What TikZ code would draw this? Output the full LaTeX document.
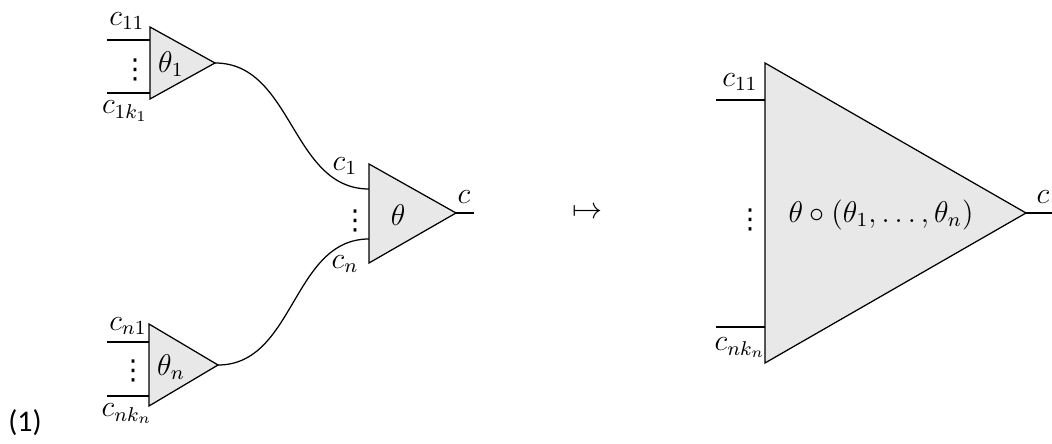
\documentclass[tikz,border=0pt]{standalone}
\usepackage{fontspec}
\newfontfamily\numfont{Carlito}
\newfontfamily\dotfont{DejaVu Sans}
\begin{document}
\begin{tikzpicture}[x=0.4pt,y=-0.4pt,
  wire/.style={line width=0.5pt},
  tri/.style={draw,line width=0.5pt,fill=gray!18,line join=miter},
  lbl/.style={inner sep=0pt,font=\fontsize{12}{14}\selectfont},
  vd/.style={inner sep=0pt,font=\dotfont\fontsize{11}{13}\selectfont}]
\useasboundingbox (0,0) rectangle (1052,444);
% top small triangle
\coordinate (t1a) at (150,27); \coordinate (t1b) at (150,99); \coordinate (t1o) at (215,63);
\filldraw[tri] (t1a) -- (t1o) -- (t1b) -- cycle;
\coordinate (t1i1s) at (107,40); \coordinate (t1i1) at (150,40);
\coordinate (t1i2s) at (107,93); \coordinate (t1i2) at (150,93);
\draw[wire] (t1i1s) -- (t1i1);
\draw[wire] (t1i2s) -- (t1i2);
\node[lbl] (l11) at (127,21) {$c_{11}$};
\node[lbl] (l1k) at (125,111) {$c_{1k_1}$};
\node[lbl] (th1) at (171,64) {$\theta_1$};
\node[vd] (d1) at (135,70) {⋮};
% bottom small triangle
\coordinate (tna) at (149,324); \coordinate (tnb) at (149,406); \coordinate (tno) at (218,365);
\filldraw[tri] (tna) -- (tno) -- (tnb) -- cycle;
\coordinate (tni1s) at (107,342); \coordinate (tni1) at (149,342);
\coordinate (tni2s) at (107,396); \coordinate (tni2) at (149,396);
\draw[wire] (tni1s) -- (tni1);
\draw[wire] (tni2s) -- (tni2);
\node[lbl] (ln1) at (128,326) {$c_{n1}$};
\node[lbl] (lnk) at (127,414) {$c_{nk_n}$};
\node[lbl] (thn) at (171,367) {$\theta_n$};
\node[vd] (dn) at (133,371) {⋮};
% middle triangle
\coordinate (ma) at (369,164); \coordinate (mb) at (369,263); \coordinate (mo) at (456,213);
\filldraw[tri] (ma) -- (mo) -- (mb) -- cycle;
\coordinate (m1) at (369,189); \coordinate (mn) at (369,239);
\coordinate (mout) at (474,213);
\draw[wire] (mo) -- (mout);
\draw[wire] (t1o) to[out=0,in=180] (m1);
\draw[wire] (tno) to[out=0,in=180] (mn);
\node[lbl] (lc1) at (345,166) {$c_1$};
\node[lbl] (lcn) at (345,264) {$c_n$};
\node[lbl] (th) at (398,215) {$\theta$};
\node[lbl] (lc) at (464,197) {$c$};
\node[vd] (dm) at (355,221) {⋮};
% mapsto
\node[lbl] (map) at (587,213) {$\mapsto$};
% big triangle
\coordinate (ba) at (765,63); \coordinate (bb) at (765,363); \coordinate (bo) at (1026,213);
\filldraw[tri] (ba) -- (bo) -- (bb) -- cycle;
\coordinate (bi1s) at (716,100); \coordinate (bi1) at (765,100);
\coordinate (bi2s) at (716,327); \coordinate (bi2) at (765,327);
\coordinate (bout) at (1052,213);
\draw[wire] (bi1s) -- (bi1);
\draw[wire] (bi2s) -- (bi2);
\draw[wire] (bo) -- (bout);
\node[lbl] (bl11) at (740,82) {$c_{11}$};
\node[lbl] (blnk) at (740,348) {$c_{nk_n}$};
\node[lbl] (bth) at (881,215) {$\theta\circ(\theta_1,\ldots,\theta_n)$};
\node[vd] (bd) at (750,220) {⋮};
\node[lbl,anchor=west] (bc) at (1036,197) {$c$};
% equation number
\node[inner sep=0pt,font=\numfont\fontsize{12}{14}\selectfont] (eq) at (25,423) {(1)};
\end{tikzpicture}
\end{document}
